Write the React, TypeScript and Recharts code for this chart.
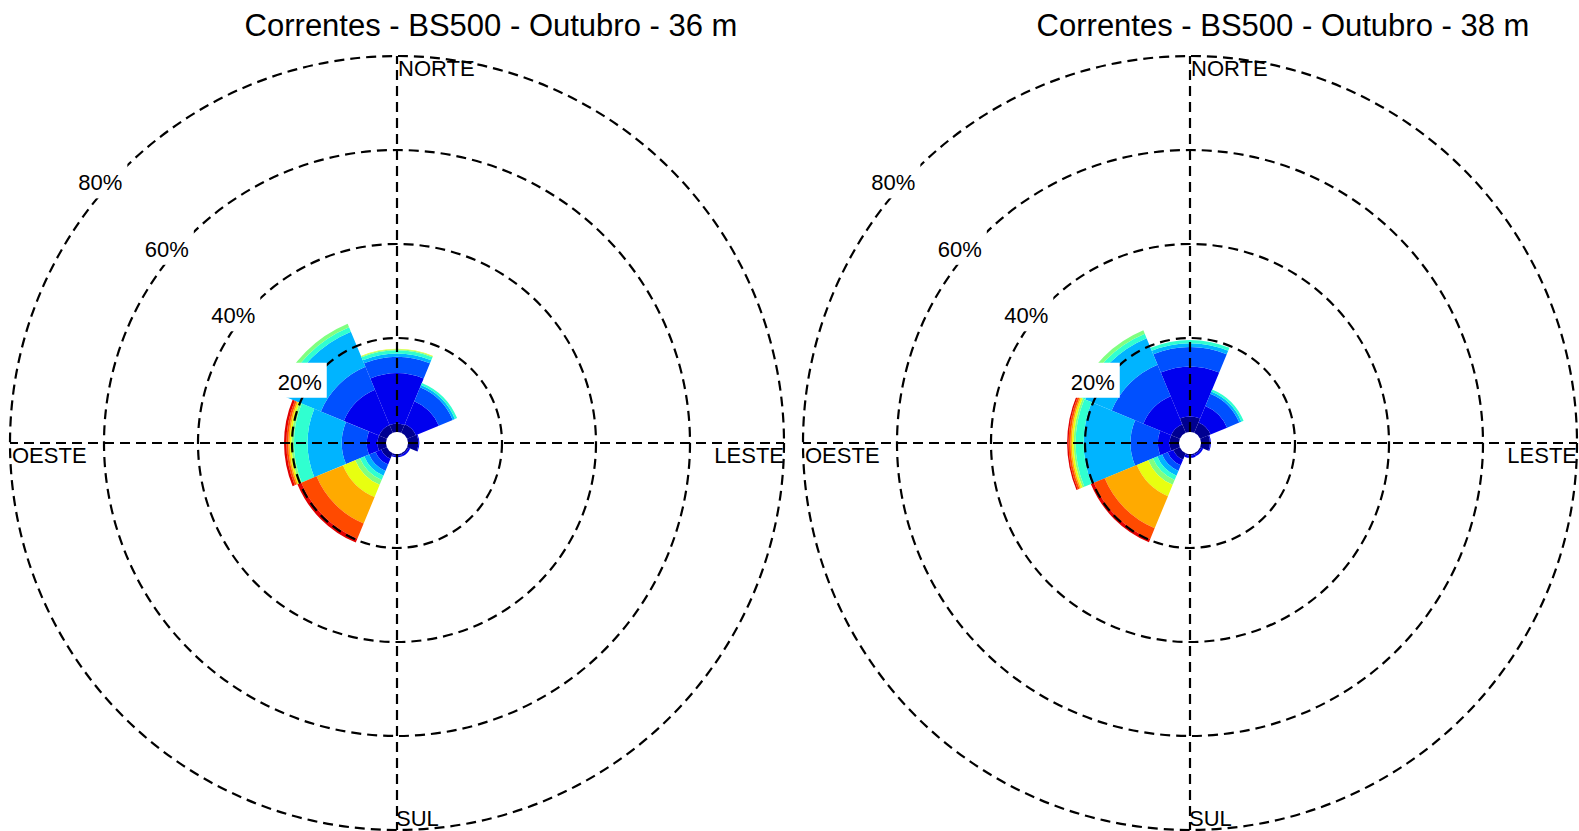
import React from 'react';
import { RadialBarChart, RadialBar, PolarGrid, PolarAngleAxis, PolarRadiusAxis } from 'recharts';

// directions (compass order, clockwise from north)
const DIRS = ['N', 'NE', 'E', 'SE', 'S', 'SW', 'W', 'NW'];
const COMPASS: Record<string, string> = { N: 'NORTE', E: 'LESTE', S: 'SUL', W: 'OESTE' };
const GRID_ANGLES = [90, 0, 270, 180];
const RING_TICKS = [20, 40, 60, 80];

// one colour per speed class (jet-like)
const BIN_COLORS = [
    '#000090', '#0000ee', '#0050ff', '#00b4ff', '#30ffd0',
    '#80ff80', '#e8ff10', '#ffaa00', '#ff4a00', '#e00000',
];

const TITLES = ['Correntes - BS500 - Outubro - 36 m', 'Correntes - BS500 - Outubro - 38 m'];

// 36 m - % per speed class, by direction
const M36_N = [1.8, 10.7, 3.5, 0.7, 0.7, 0.2, 0.1, 0, 0, 0];
const M36_NE = [2.0, 5.3, 3.2, 0.5, 0.5, 0, 0, 0, 0, 0];
const M36_E = [2.2, 0.2, 0, 0, 0, 0, 0, 0, 0, 0];
const M36_SE = [0.3, 0.4, 0, 0, 0, 0, 0, 0, 0, 0];
const M36_S = [0.4, 0.3, 0, 0, 0, 0, 0, 0, 0, 0];
const M36_SW = [1.3, 1.3, 1.5, 1.1, 1.0, 1.1, 2.8, 6.1, 3.5, 0.9];
const M36_W = [1.8, 2.3, 5.3, 7.3, 2.9, 0.5, 0.4, 0.3, 0.4, 0.5];
const M36_NW = [1.8, 8.1, 5.3, 8.1, 1.0, 0.8, 0, 0, 0, 0];

// 38 m
const M38_N = [3.3, 10.6, 4.2, 0.8, 0.7, 0, 0, 0, 0, 0];
const M38_NE = [2.4, 3.8, 2.8, 0.5, 0.5, 0, 0, 0, 0, 0];
const M38_E = [1.9, 0.2, 0, 0, 0, 0, 0, 0, 0, 0];
const M38_SE = [0.3, 0.4, 0, 0, 0, 0, 0, 0, 0, 0];
const M38_S = [0.3, 0.5, 0, 0, 0, 0, 0, 0, 0, 0];
const M38_SW = [1.5, 1.3, 1.3, 1.1, 1.0, 1.1, 2.6, 7.4, 2.5, 0.7];
const M38_W = [2.0, 2.5, 5.8, 10.0, 1.7, 0.4, 0.4, 0.3, 0.4, 0.3];
const M38_NW = [2.0, 6.4, 7.3, 6.1, 1.0, 0.8, 0, 0, 0, 0];

const toRows = (byDir: number[][]) =>
    DIRS.map((dir, i) => {
        const row: Record<string, any> = { dir };
        byDir[i].forEach((v, k) => { row['b' + k] = v; });
        return row;
    });

const ROWS_36 = toRows([M36_N, M36_NE, M36_E, M36_SE, M36_S, M36_SW, M36_W, M36_NW]);
const ROWS_38 = toRows([M38_N, M38_NE, M38_E, M38_SE, M38_S, M38_SW, M38_W, M38_NW]);

const FONT = '"Liberation Sans", Arial, sans-serif';
const HALF_BAND = 180 / DIRS.length; // ticks sit on the sector edge, labels go on its middle

function CompassTick(props: any) {
    const { payload, cx, cy, radius } = props;
    const label = COMPASS[payload.value];
    if (!label) return null;
    let { x, y } = props;
    if (cx != null && radius != null) {
        const a = ((payload.coordinate + HALF_BAND) * Math.PI) / 180;
        x = cx + radius * Math.cos(a);
        y = cy - radius * Math.sin(a);
    }
    const common = { fontFamily: FONT, fontSize: 22, fill: '#000' };
    if (payload.value === 'N') return <text x={x + 1} y={y + 20} {...common}>{label}</text>;
    if (payload.value === 'E') return <text x={x} y={y + 20} textAnchor="end" {...common}>{label}</text>;
    if (payload.value === 'S') return <text x={x - 1} y={y - 4} {...common}>{label}</text>;
    return <text x={x + 2} y={y + 20} {...common}>{label}</text>;
}

function PctTick(props: any) {
    const { x, y, payload } = props;
    return (
        <g>
            <rect x={x - 45} y={y - 6} width={49} height={35} fill="#fff" />
            <text x={x - 1} y={y + 21} textAnchor="end" fontFamily={FONT} fontSize={22} fill="#000">
                {payload.value}%
            </text>
        </g>
    );
}

function Rose({ rows }: { rows: any[] }) {
    return (
        <RadialBarChart
            width={793}
            height={831}
            data={rows}
            layout="centric"
            cx={397}
            cy={443}
            innerRadius={11}
            outerRadius={387}
            startAngle={67.5}
            endAngle={-292.5}
            barCategoryGap={0}
            barGap={0}
            margin={{ top: 0, right: 0, bottom: 0, left: 0 }}
        >
            {BIN_COLORS.map((c, i) => (
                <RadialBar key={i} dataKey={'b' + i} stackId="s" fill={c} isAnimationActive={false} />
            ))}
            <PolarGrid gridType="circle" polarAngles={GRID_ANGLES} stroke="#000" strokeWidth={2.2} strokeDasharray="10 6" zIndex={600} />
            <PolarAngleAxis type="category" dataKey="dir" axisLine={false} tickLine={false} tickSize={0} tick={<CompassTick />} zIndex={700} />
            <PolarRadiusAxis type="number" domain={[0, 80]} ticks={RING_TICKS} angle={135} axisLine={false} tickLine={false} tick={<PctTick />} zIndex={700} />
        </RadialBarChart>
    );
}

export default function App() {
    return (
        <div style={{ position: 'absolute', left: 0, top: 0, width: 1579, height: 831, background: '#fff', overflow: 'hidden' }}>
            <div style={{ position: 'absolute', left: 0, top: 0 }}>
                <Rose rows={ROWS_36} />
            </div>
            <div style={{ position: 'absolute', left: 793, top: 0 }}>
                <Rose rows={ROWS_38} />
            </div>
            <svg width={1579} height={831} style={{ position: 'absolute', left: 0, top: 0, pointerEvents: 'none' }}>
                {TITLES.map((t, i) => (
                    <text key={t} x={491 + i * 792} y={36} textAnchor="middle" fontFamily={FONT} fontSize={31} fill="#000">
                        {t}
                    </text>
                ))}
            </svg>
        </div>
    );
}
